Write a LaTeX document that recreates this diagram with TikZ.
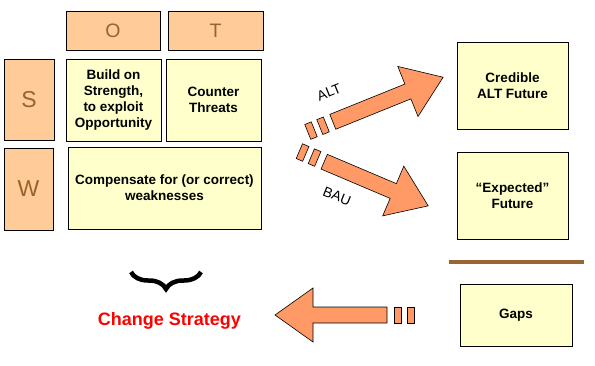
\documentclass[tikz,border=0pt]{standalone}
\usepackage{fontspec}
\setmainfont{Liberation Sans}
\usetikzlibrary{decorations.pathreplacing}

\definecolor{peach}{HTML}{FFCC99}
\definecolor{cream}{HTML}{FFFFCC}
\definecolor{salmon}{HTML}{FF9966}
\definecolor{bark}{HTML}{996633}
\definecolor{letterbrown}{HTML}{9A622C}

\newcommand{\cellfont}{\fontsize{13.5}{16}\selectfont\bfseries}

\tikzset{
  letterbox/.style={draw, line width=0.8pt, fill=peach, text=letterbrown, inner sep=0pt},
  cellbox/.style={draw, line width=0.8pt, fill=cream, font=\cellfont, align=center, inner sep=0pt},
  arrowfill/.style={draw, line width=0.6pt, fill=salmon},
  fat arrow/.pic={
    \draw[arrowfill] (0,-8) -- (#1,-8) -- (#1,-27) -- (#1+38,0) -- (#1,27) -- (#1,8) -- (0,8) -- cycle;
    \foreach \s in {-14,-27}
      \draw[arrowfill] (\s,-8) rectangle ++(7,16);
  }
}

\begin{document}
\begin{tikzpicture}[x=1pt, y=-1pt]
  \useasboundingbox (0,0) rectangle (595,365);

  % SWOT grid
  \node[letterbox, font=\fontsize{19.5}{22}\selectfont, minimum width=94, minimum height=39] (o) at (113,30.5) {O};
  \node[letterbox, font=\fontsize{19.5}{22}\selectfont, minimum width=95, minimum height=39] (t) at (215.5,30.5) {T};
  \node[letterbox, font=\fontsize{23}{26}\selectfont, minimum width=50, minimum height=81] (s) at (29,99.5) {S};
  \node[letterbox, font=\fontsize{23}{26}\selectfont, minimum width=49, minimum height=82] (w) at (28.5,189) {W};

  \node[cellbox, minimum width=95, minimum height=82] (so) at (113.5,100) {Build on\\Strength,\\to exploit\\Opportunity};
  \node[cellbox, minimum width=95, minimum height=82] (st) at (213.5,100) {Counter\\Threats};
  \node[cellbox, minimum width=193, minimum height=82] (wk) at (164.5,188) {Compensate for (or correct)\\weaknesses};

  % futures
  \node[cellbox, minimum width=111, minimum height=87] (alt) at (512.5,85.5) {Credible\\ALT Future};
  \node[cellbox, minimum width=111, minimum height=87] (bau) at (512.5,195.5) {“Expected”\\Future};
  \draw[bark, line width=4pt] (449,262) coordinate (rule l) -- (584,262) coordinate (rule r);
  \node[cellbox, minimum width=112, minimum height=62] (gaps) at (516,315) {Gaps};

  % block arrows
  \pic (altarrow) [rotate=22] at (332.8,121.8) {fat arrow=81};
  \pic (bauarrow) [rotate=-23] at (324.2,161.7) {fat arrow=75};
  \pic (backarrow) [rotate=180] at (387,315) {fat arrow=74};
  \node[rotate=22, font=\fontsize{14}{16}\selectfont, inner sep=0pt] (altlabel) at (329,92) {ALT};
  \node[rotate=-22, font=\fontsize{14}{16}\selectfont, inner sep=0pt] (baulabel) at (337,196) {BAU};

  % strategy
  \draw[line width=4.5pt, decorate, decoration={brace, mirror, amplitude=17pt}] (131,272) coordinate (brace l) -- (201,272) coordinate (brace r);
  \node[text=red, font=\fontsize{18}{20}\selectfont\bfseries] (change) at (169.5,321) {Change Strategy};
\end{tikzpicture}
\end{document}
